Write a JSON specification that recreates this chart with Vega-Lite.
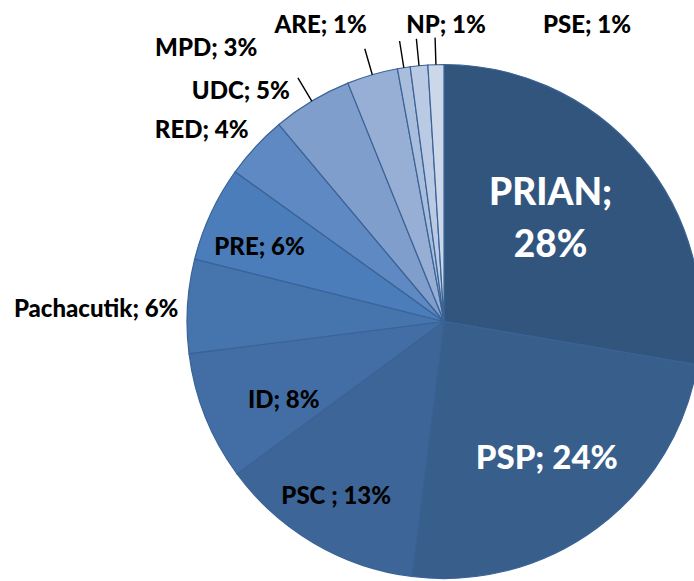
{
  "$schema": "https://vega.github.io/schema/vega-lite/v6.json",
  "width": 694,
  "height": 581,
  "autosize": {"type": "none"},
  "padding": {"left": 97, "top": 31, "right": -97, "bottom": -31},
  "background": "white",
  "config": {"view": {"stroke": null}, "text": {"font": "Lato", "fontWeight": 900, "fontSize": 24}},
  "data": {"values": [
    {"party": "PRIAN", "value": 27.7, "label": ["PRIAN;", "28%"], "order": 1},
    {"party": "PSP", "value": 24.3, "label": "PSP; 24%", "order": 2},
    {"party": "PSC", "value": 12.9, "label": "PSC ; 13%", "order": 3},
    {"party": "ID", "value": 8.1, "label": "ID; 8%", "order": 4},
    {"party": "Pachacutik", "value": 5.9, "label": "Pachacutik; 6%", "order": 5},
    {"party": "PRE", "value": 6.0, "label": "PRE; 6%", "order": 6},
    {"party": "RED", "value": 4.0, "label": "RED; 4%", "order": 7},
    {"party": "UDC", "value": 5.0, "label": "UDC; 5%", "order": 8},
    {"party": "MPD", "value": 3.2, "label": "MPD; 3%", "order": 9},
    {"party": "ARE", "value": 0.8, "label": "ARE; 1%", "order": 10},
    {"party": "NP", "value": 1.1, "label": "NP; 1%", "order": 11},
    {"party": "PSE", "value": 1.0, "label": "PSE; 1%", "order": 12}
  ]},
  "transform": [
    {"window": [{"op": "sum", "field": "value", "as": "cum"}], "sort": [{"field": "order"}], "frame": [null, 0]},
    {"calculate": "datum.cum - datum.value / 2", "as": "mid"},
    {"calculate": "datum.cum - datum.value", "as": "start"}
  ],
  "layer": [
    {
      "mark": {"type": "arc", "radius": 257, "stroke": "#3A6295", "strokeWidth": 1.2},
      "encoding": {
        "theta": {"field": "start", "type": "quantitative", "stack": null, "scale": {"domain": [0, 100]}},
        "theta2": {"field": "cum"},
        "color": {"field": "party", "type": "nominal", "legend": null,
          "scale": {"domain": ["PRIAN", "PSP", "PSC", "ID", "Pachacutik", "PRE", "RED", "UDC", "MPD", "ARE", "NP", "PSE"],
                    "range": ["#32557E", "#385E8C", "#3D6597", "#426EA5", "#4675AE", "#4B7DBB", "#5F89C2", "#809ECC", "#97AFD5", "#A9BDDD", "#BACAE4", "#CDD7EA"]}}
      }
    },
    {
      "transform": [{"filter": "indexof(['UDC','MPD','ARE','NP','PSE'], datum.party) >= 0"}],
      "mark": {"type": "arc", "radius": 257, "radius2": 284, "stroke": "black", "strokeWidth": 1.4, "fillOpacity": 0},
      "encoding": {
        "theta": {"field": "mid", "type": "quantitative", "stack": null},
        "theta2": {"field": "mid"}
      }
    },
    {
      "transform": [{"filter": "datum.party === 'PRIAN'"}],
      "mark": {"type": "text", "radius": 146, "dx": -5, "dy": -33, "fontSize": 37, "lineHeight": 52, "color": "white"},
      "encoding": {"theta": {"field": "mid", "type": "quantitative", "stack": null}, "text": {"field": "label"}}
    },
    {
      "transform": [{"filter": "datum.party === 'PSP'"}],
      "mark": {"type": "text", "radius": 171, "dx": 1, "dy": 0, "fontSize": 33, "color": "white"},
      "encoding": {"theta": {"field": "mid", "type": "quantitative", "stack": null}, "text": {"field": "label"}}
    },
    {
      "transform": [{"filter": "datum.party === 'PSC'"}],
      "mark": {"type": "text", "radius": 203, "dx": -5, "dy": 0, "color": "black"},
      "encoding": {"theta": {"field": "mid", "type": "quantitative", "stack": null}, "text": {"field": "label"}}
    },
    {
      "transform": [{"filter": "datum.party === 'ID'"}],
      "mark": {"type": "text", "radius": 178, "dx": 5, "dy": 13, "color": "black"},
      "encoding": {"theta": {"field": "mid", "type": "quantitative", "stack": null}, "text": {"field": "label"}}
    },
    {
      "transform": [{"filter": "datum.party === 'PRE'"}],
      "mark": {"type": "text", "radius": 200, "dx": -3, "dy": 11, "color": "black"},
      "encoding": {"theta": {"field": "mid", "type": "quantitative", "stack": null}, "text": {"field": "label"}}
    },
    {
      "transform": [{"filter": "datum.party === 'Pachacutik'"}],
      "mark": {"type": "text", "radius": 257, "align": "right", "dx": -9, "dy": 4, "color": "black"},
      "encoding": {"theta": {"field": "mid", "type": "quantitative", "stack": null}, "text": {"field": "label"}}
    },
    {
      "transform": [{"filter": "datum.party === 'RED'"}],
      "mark": {"type": "text", "radius": 257, "align": "right", "dx": -7, "dy": -16, "color": "black"},
      "encoding": {"theta": {"field": "mid", "type": "quantitative", "stack": null}, "text": {"field": "label"}}
    },
    {
      "transform": [{"filter": "datum.party === 'UDC'"}],
      "mark": {"type": "text", "radius": 257, "align": "right", "dx": -22, "dy": -9, "color": "black"},
      "encoding": {"theta": {"field": "mid", "type": "quantitative", "stack": null}, "text": {"field": "label"}}
    },
    {
      "transform": [{"filter": "datum.party === 'MPD'"}],
      "mark": {"type": "text", "radius": 257, "align": "right", "dx": -115, "dy": -26, "color": "black"},
      "encoding": {"theta": {"field": "mid", "type": "quantitative", "stack": null}, "text": {"field": "label"}}
    },
    {
      "transform": [{"filter": "datum.party === 'ARE'"}],
      "mark": {"type": "text", "radius": 257, "align": "right", "dx": -37, "dy": -42, "color": "black"},
      "encoding": {"theta": {"field": "mid", "type": "quantitative", "stack": null}, "text": {"field": "label"}}
    },
    {
      "transform": [{"filter": "datum.party === 'NP'"}],
      "mark": {"type": "text", "radius": 257, "align": "center", "dx": 27, "dy": -40, "color": "black"},
      "encoding": {"theta": {"field": "mid", "type": "quantitative", "stack": null}, "text": {"field": "label"}}
    },
    {
      "transform": [{"filter": "datum.party === 'PSE'"}],
      "mark": {"type": "text", "radius": 257, "align": "left", "dx": 107, "dy": -39, "color": "black"},
      "encoding": {"theta": {"field": "mid", "type": "quantitative", "stack": null}, "text": {"field": "label"}}
    }
  ]
}
